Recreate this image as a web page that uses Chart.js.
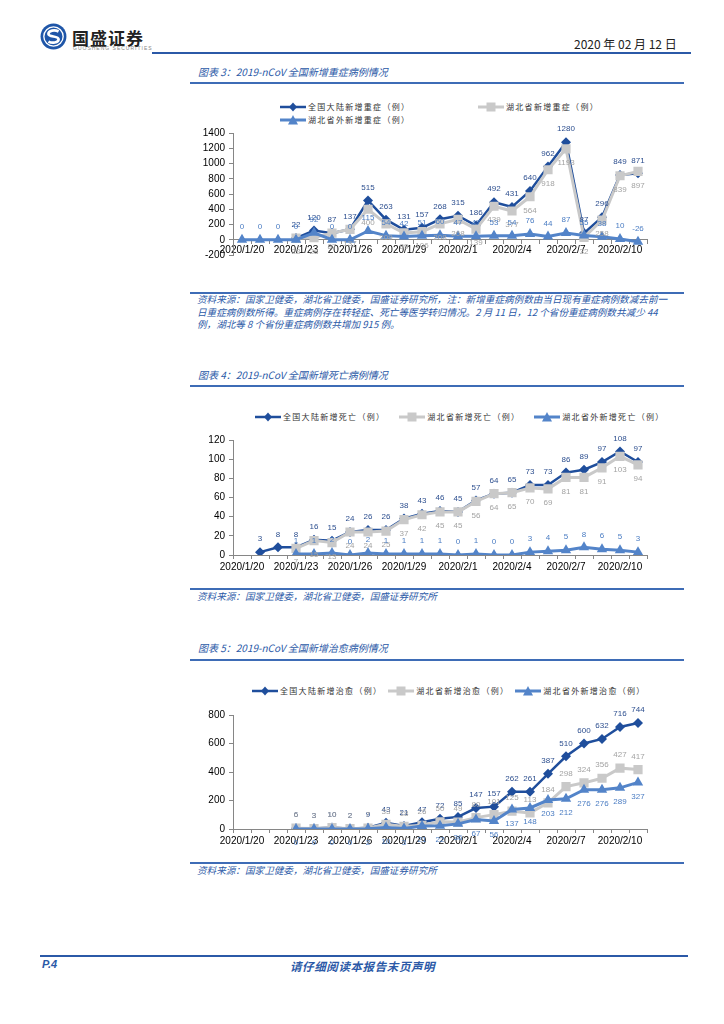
<!DOCTYPE html>
<html>
<head>
<meta charset="utf-8">
<title>2019-nCoV 全国新增病例情况</title>
<script src="https://cdn.jsdelivr.net/npm/chart.js@4.4.1/dist/chart.umd.min.js"></script>
<style>
  body { margin: 0; background: #fff; }
  #page { position: relative; width: 724px; height: 1024px; overflow: hidden;
          font-family: "Noto Sans CJK SC", "Liberation Sans", sans-serif; }
  .abs { position: absolute; white-space: nowrap; }
  .rule { position: absolute; background: #2b59a7; }
  .caption { font-size: 10px; font-style: italic; color: #2b59a7; line-height: 12px; }
  .note { font-size: 9.6px; font-style: italic; color: #2b59a7; line-height: 12.5px; }
  .legend { position: absolute; display: flex; align-items: center; font-size: 8px;
            letter-spacing: 1.3px; color: #333; white-space: nowrap; line-height: 10px; }
  .legend svg { margin-right: 2px; }
  canvas { position: absolute; left: 190px; }
</style>
</head>
<body>
<div id="page">
  <!-- header -->
  <svg class="abs" style="left:40px;top:23px" width="27" height="27" viewBox="0 0 24 24">
    <circle cx="12" cy="12" r="11.5" fill="#1f56a8"/>
    <circle cx="12" cy="12" r="8.6" fill="none" stroke="#fff" stroke-width="1.2"/>
    <path d="M16.5 7.5 C13 5.8 7.5 6.5 7.5 9.8 C7.5 12.8 16.5 11.2 16.5 14.4 C16.5 17.8 10.5 18.2 7.5 16.5"
          stroke="#fff" stroke-width="2.4" fill="none"/>
  </svg>
  <div class="abs" style="left:72px;top:25px;font-size:17px;font-weight:bold;color:#222;letter-spacing:1px">国盛证券</div>
  <div class="abs" style="left:73px;top:45px;font-size:5px;color:#888;letter-spacing:1px;font-family:'Liberation Sans'">GUOSHENG SECURITIES</div>
  <div class="abs" style="left:574px;top:35px;font-size:12px;color:#222">2020 年 02 月 12 日</div>
  <div class="rule" style="left:152px;top:52px;width:539px;height:2px"></div>

  <!-- figure 3 -->
  <div class="abs caption" style="left:198px;top:66px">图表 3：2019-nCoV 全国新增重症病例情况</div>
  <div class="rule" style="left:190px;top:82px;width:494px;height:1.5px;background:#3e6cb6"></div>
  <div id="legend3a" class="legend" style="left:280px;top:102px"></div>
  <div id="legend3b" class="legend" style="left:478px;top:102px"></div>
  <div id="legend3c" class="legend" style="left:280px;top:115px"></div>
  <canvas id="c3" width="480" height="150" style="top:120px"></canvas>
  <div class="rule" style="left:190px;top:292px;width:494px;height:1.5px;background:#3e6cb6"></div>
  <div class="abs note" style="left:197px;top:293px">资料来源：国家卫健委，湖北省卫健委，国盛证券研究所，注：新增重症病例数由当日现有重症病例数减去前一<br>日重症病例数所得。重症病例存在转轻症、死亡等医学转归情况。2 月 11 日，12 个省份重症病例数共减少 44<br>例，湖北等 8 个省份重症病例数共增加 915 例。</div>

  <!-- figure 4 -->
  <div class="abs caption" style="left:198px;top:369px">图表 4：2019-nCoV 全国新增死亡病例情况</div>
  <div class="rule" style="left:190px;top:385px;width:494px;height:1.5px;background:#3e6cb6"></div>
  <div id="legend4" class="legend" style="left:255px;top:412px"></div>
  <canvas id="c4" width="480" height="160" style="top:425px"></canvas>
  <div class="rule" style="left:190px;top:588px;width:494px;height:1.5px;background:#3e6cb6"></div>
  <div class="abs note" style="left:197px;top:590px">资料来源：国家卫健委，湖北省卫健委，国盛证券研究所</div>

  <!-- figure 5 -->
  <div class="abs caption" style="left:198px;top:642px">图表 5：2019-nCoV 全国新增治愈病例情况</div>
  <div class="rule" style="left:190px;top:659px;width:494px;height:1.5px;background:#3e6cb6"></div>
  <div id="legend5" class="legend" style="left:252px;top:686px"></div>
  <canvas id="c5" width="480" height="160" style="top:700px"></canvas>
  <div class="rule" style="left:190px;top:862px;width:494px;height:1.5px;background:#3e6cb6"></div>
  <div class="abs note" style="left:197px;top:864px">资料来源：国家卫健委，湖北省卫健委，国盛证券研究所</div>

  <!-- footer -->
  <div class="rule" style="left:40px;top:955px;width:648px;height:2px"></div>
  <div class="abs" style="left:42px;top:958px;font-size:11px;font-weight:bold;font-style:italic;color:#2b59a7;font-family:'Liberation Sans'">P.4</div>
  <div class="abs" style="left:290px;top:958px;font-size:11.5px;font-weight:bold;font-style:italic;color:#2b59a7;letter-spacing:0.6px">请仔细阅读本报告末页声明</div>
</div>

<script>
// categories
const DATES = [
  "2020/1/20", "2020/1/21", "2020/1/22", "2020/1/23", "2020/1/24", "2020/1/25",
  "2020/1/26", "2020/1/27", "2020/1/28", "2020/1/29", "2020/1/30", "2020/1/31",
  "2020/2/1", "2020/2/2", "2020/2/3", "2020/2/4", "2020/2/5", "2020/2/6",
  "2020/2/7", "2020/2/8", "2020/2/9", "2020/2/10", "2020/2/11",
];

// figure 3: new severe cases
const SEVERE_NATIONAL = [null, null, null, 22, 120, 87, 137, 515, 263, 131, 157, 268, 315, 186, 492, 431, 640, 962, 1280, 87, 296, 849, 871];
const SEVERE_HUBEI = [null, null, null, 22, 28, 87, 137, 400, 209, 89, 106, 208, 268, 139, 439, 377, 564, 918, 1193, 32, 258, 839, 897];
const SEVERE_OUTSIDE = [0, 0, 0, 0, 92, 0, 0, 115, 54, 42, 51, 60, 47, 47, 53, 54, 76, 44, 87, 55, 38, 10, -26];
const SEVERE_TICKS = [-200, 0, 200, 400, 600, 800, 1000, 1200, 1400];

// figure 4: new deaths
const DEATH_NATIONAL = [null, 3, 8, 8, 16, 15, 24, 26, 26, 38, 43, 46, 45, 57, 64, 65, 73, 73, 86, 89, 97, 108, 97];
const DEATH_HUBEI = [null, null, null, 7, 15, 13, 24, 24, 25, 37, 42, 45, 45, 56, 64, 65, 70, 69, 81, 81, 91, 103, 94];
const DEATH_OUTSIDE = [null, null, null, 1, 1, 2, 0, 2, 1, 1, 1, 1, 0, 1, 0, 0, 3, 4, 5, 8, 6, 5, 3];
const DEATH_TICKS = [0, 20, 40, 60, 80, 100, 120];

// figure 5: new recoveries
const CURED_NATIONAL = [null, null, null, 6, 3, 10, 2, 9, 43, 21, 47, 72, 85, 147, 157, 262, 261, 387, 510, 600, 632, 716, 744];
const CURED_HUBEI = [null, null, null, 6, 3, 10, 2, 7, 33, 18, 26, 50, 49, 80, 101, 125, 113, 184, 298, 324, 356, 427, 417];
const CURED_OUTSIDE = [null, null, null, 0, 0, 0, 0, 2, 10, 3, 21, 22, 36, 67, 56, 137, 148, 203, 212, 276, 276, 289, 327];
const CURED_TICKS = [0, 100, 200, 300, 400, 500, 600, 700, 800];

const NAVY = "#1f4e9c";
const GREY = "#c9c9c9";
const SKY = "#5384c9";
const AXIS = "#868686";
const TICK_FONT = { family: "'Liberation Sans', Arial, sans-serif", size: 10 };

// draws the value next to every point
const valueLabels = {
  id: "valueLabels",
  afterDatasetsDraw(chart) {
    const ctx = chart.ctx;
    ctx.save();
    ctx.font = "8px 'Liberation Sans', Arial, sans-serif";
    ctx.textAlign = "center";
    ctx.textBaseline = "middle";
    chart.data.datasets.forEach((ds, i) => {
      const meta = chart.getDatasetMeta(i);
      ctx.fillStyle = ds.labelColor;
      meta.data.forEach((pt, j) => {
        const v = ds.data[j];
        if (v === null || v === undefined) return;
        const dy = ds.labelPos === "below" ? 14 : -13;
        ctx.fillText(String(v), pt.x, pt.y + dy);
      });
    });
    ctx.restore();
  },
};

function markerSvg(kind, color, width) {
  let shape = "";
  if (kind === "diamond") shape = `<polygon points="13,0.5 17,5 13,9.5 9,5" fill="${color}"/>`;
  if (kind === "square") shape = `<rect x="8.5" y="0.5" width="9" height="9" fill="${color}"/>`;
  if (kind === "triangle") shape = `<polygon points="13,0 18,9.5 8,9.5" fill="${color}"/>`;
  return `<svg width="26" height="10"><line x1="0" y1="5" x2="26" y2="5" stroke="${color}" stroke-width="${width}"/>${shape}</svg>`;
}

function fillLegend(id, items) {
  const el = document.getElementById(id);
  el.innerHTML = items.map((it) =>
    `<span style="display:flex;align-items:center;margin-right:${it.gap || 0}px">${markerSvg(it.kind, it.color, it.width)}${it.name}</span>`
  ).join("");
}

function series(name, data, kind, color, labelColor, labelPos, order) {
  const style = { diamond: "rectRot", square: "rect", triangle: "triangle" }[kind];
  const radius = { diamond: 5, square: 6.5, triangle: 6 }[kind];
  return {
    label: name,
    data: data,
    borderColor: color,
    backgroundColor: color,
    borderWidth: kind === "diamond" ? 2.5 : 3,
    pointStyle: style,
    pointRadius: radius,
    pointBorderWidth: 0,
    tension: 0,
    labelColor: labelColor,
    labelPos: labelPos,
    order: order,
  };
}

function makeChart(id, datasets, ticks, xAtZero, padTop, padBottom) {
  const xScale = {
    type: "category",
    offset: true,
    grid: { offset: true, drawOnChartArea: false, tickLength: 4, color: AXIS },
    border: { color: AXIS, width: 1 },
    ticks: {
      autoSkip: false,
      maxRotation: 0,
      minRotation: 0,
      padding: xAtZero ? 0 : 2,
      color: "#000",
      font: TICK_FONT,
      callback(value, index) {
        return index % 3 === 0 ? this.getLabelForValue(value) : "";
      },
    },
  };
  if (xAtZero) {
    xScale.position = { y: 0 };
  } else {
    xScale.afterFit = (s) => { s.height = 20; };
  }
  return new Chart(document.getElementById(id), {
    type: "line",
    data: { labels: DATES, datasets: datasets },
    options: {
      responsive: false,
      animation: false,
      layout: { padding: { top: padTop, bottom: padBottom, left: 0, right: 23 } },
      plugins: { legend: { display: false }, tooltip: { enabled: false } },
      scales: {
        x: xScale,
        y: {
          min: ticks[0],
          max: ticks[ticks.length - 1],
          afterBuildTicks: (s) => { s.ticks = ticks.map((v) => ({ value: v })); },
          grid: { drawOnChartArea: false, tickLength: 4, color: AXIS },
          border: { color: AXIS, width: 1 },
          ticks: { color: "#000", font: TICK_FONT, padding: 4, callback: (v) => String(v) },
          afterFit: (s) => { s.width = 43; },
        },
      },
    },
    plugins: [valueLabels],
  });
}

// figure 3
fillLegend("legend3a", [{ name: "全国大陆新增重症（例）", kind: "diamond", color: NAVY, width: 2.5 }]);
fillLegend("legend3b", [{ name: "湖北省新增重症（例）", kind: "square", color: GREY, width: 3 }]);
fillLegend("legend3c", [{ name: "湖北省外新增重症（例）", kind: "triangle", color: SKY, width: 3 }]);
makeChart("c3", [
  series("全国大陆新增重症（例）", SEVERE_NATIONAL, "diamond", NAVY, "#2d4f8f", "above", 3),
  series("湖北省新增重症（例）", SEVERE_HUBEI, "square", GREY, "#a3a3a3", "below", 2),
  series("湖北省外新增重症（例）", SEVERE_OUTSIDE, "triangle", SKY, "#4b7dc3", "above", 1),
], SEVERE_TICKS, true, 13, 15);

// figure 4
fillLegend("legend4", [
  { name: "全国大陆新增死亡（例）", kind: "diamond", color: NAVY, width: 2.5, gap: 14 },
  { name: "湖北省新增死亡（例）", kind: "square", color: GREY, width: 3, gap: 14 },
  { name: "湖北省外新增死亡（例）", kind: "triangle", color: SKY, width: 3 },
]);
makeChart("c4", [
  series("全国大陆新增死亡（例）", DEATH_NATIONAL, "diamond", NAVY, "#2d4f8f", "above", 3),
  series("湖北省新增死亡（例）", DEATH_HUBEI, "square", GREY, "#a3a3a3", "below", 2),
  series("湖北省外新增死亡（例）", DEATH_OUTSIDE, "triangle", SKY, "#4b7dc3", "above", 1),
], DEATH_TICKS, false, 15, 10);

// figure 5
fillLegend("legend5", [
  { name: "全国大陆新增治愈（例）", kind: "diamond", color: NAVY, width: 2.5, gap: 6 },
  { name: "湖北省新增治愈（例）", kind: "square", color: GREY, width: 3, gap: 6 },
  { name: "湖北省外新增治愈（例）", kind: "triangle", color: SKY, width: 3 },
]);
makeChart("c5", [
  series("全国大陆新增治愈（例）", CURED_NATIONAL, "diamond", NAVY, "#2d4f8f", "above", 3),
  series("湖北省新增治愈（例）", CURED_HUBEI, "square", GREY, "#a3a3a3", "above", 2),
  series("湖北省外新增治愈（例）", CURED_OUTSIDE, "triangle", SKY, "#4b7dc3", "below", 1),
], CURED_TICKS, false, 15, 11);
</script>
</body>
</html>
